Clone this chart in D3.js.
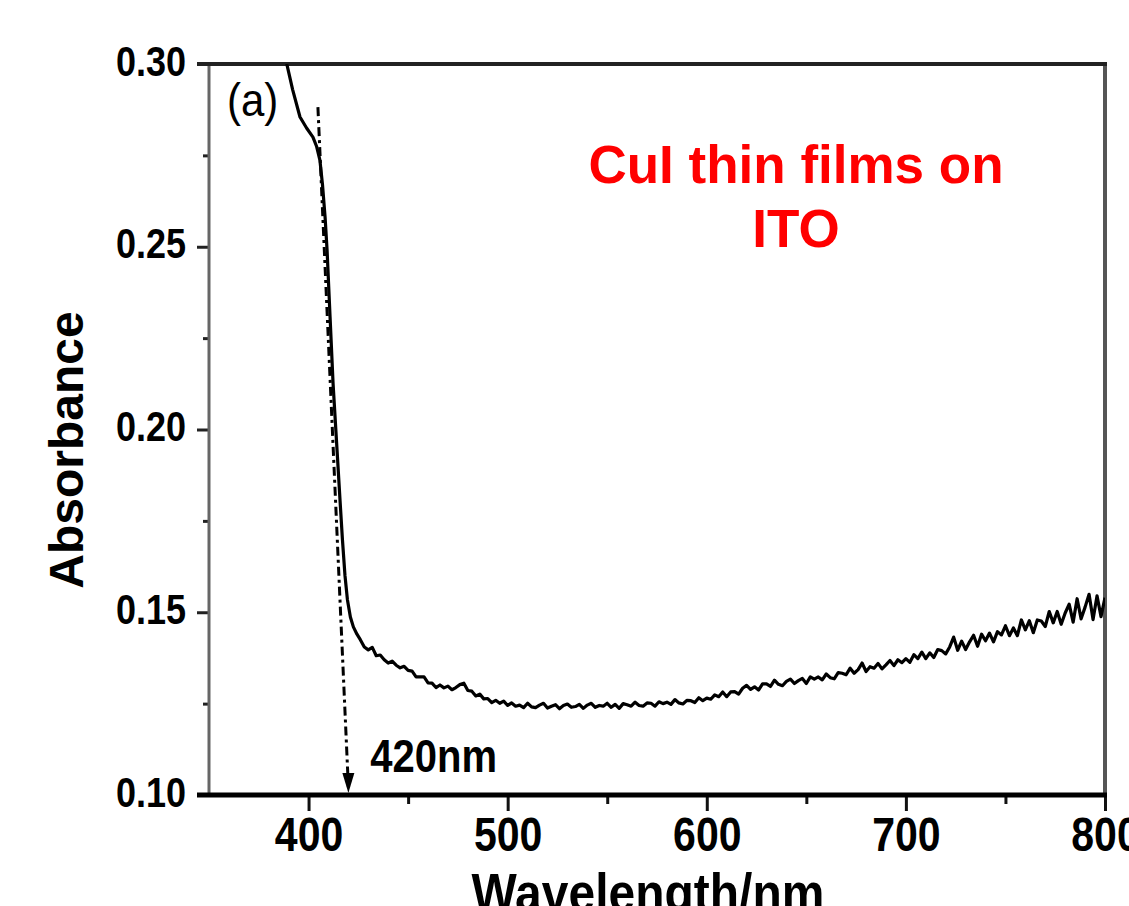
<!DOCTYPE html>
<html>
<head>
<meta charset="utf-8">
<script src="https://cdn.jsdelivr.net/npm/d3@7"></script>
<style>
  html, body { margin: 0; padding: 0; background: #fff; }
  svg { display: block; font-family: "Liberation Sans", Arial, sans-serif; }
</style>
</head>
<body>
<div id="chart"></div>
<script>
// absorption edge (steep part) + noisy plateau
const wavelength = [
  388, 389.2, 392, 395.7, 399, 402.2, 404, 405.7, 407, 408.3, 409.3, 410.8, 412.3, 414.3, 415.8, 417, 418.3, 419.5, 421, 422.5, 424.3, 426, 428,
  430, 432, 434, 436, 438, 440, 442, 444, 446, 448, 450, 452, 454, 456, 458, 460, 462, 464, 466, 468, 470, 472, 474, 476, 478, 480,
  482, 484, 486, 488, 490, 492, 494, 496, 498, 500, 502, 504, 506, 508, 510, 512, 514, 516, 518, 520, 522, 524, 526, 528, 530,
  532, 534, 536, 538, 540, 542, 544, 546, 548, 550, 552, 554, 556, 558, 560, 562, 564, 566, 568, 570, 572, 574, 576, 578, 580,
  582, 584, 586, 588, 590, 592, 594, 596, 598, 600, 602, 604, 606, 608, 610, 612, 614, 616, 618, 620, 622, 624, 626, 628, 630,
  632, 634, 636, 638, 640, 642, 644, 646, 648, 650, 652, 654, 656, 658, 660, 662, 664, 666, 668, 670, 672, 674, 676, 678, 680,
  682, 684, 686, 688, 690, 692, 694, 696, 698, 700, 702, 704, 706, 708, 710, 712, 714, 716, 718, 720, 722, 724, 726, 728, 730,
  732, 734, 736, 738, 740, 742, 744, 746, 748, 750, 752, 754, 756, 758, 760, 762, 764, 766, 768, 770, 772, 774, 776, 778, 780,
  782, 784, 786, 788, 790, 792, 794, 796, 798, 800
];
const absorbance = [
  0.3035, 0.2997, 0.2930, 0.2855, 0.2825, 0.2800, 0.2775, 0.2737, 0.2670, 0.2581, 0.2491, 0.2308, 0.2127, 0.1944, 0.1807, 0.1700, 0.1600, 0.1535, 0.1487, 0.1460, 0.1440, 0.1425, 0.1405,
  0.1397, 0.1404, 0.1381, 0.1383, 0.1370, 0.1361, 0.1366, 0.1355, 0.1348, 0.1352, 0.1341, 0.1339, 0.1323, 0.1323, 0.1323, 0.1307, 0.1306, 0.1294, 0.1301, 0.1293, 0.1298, 0.1288, 0.1294, 0.1302, 0.1306, 0.1286,
  0.1284, 0.1271, 0.1276, 0.1263, 0.1264, 0.1253, 0.1259, 0.1251, 0.1257, 0.1245, 0.1252, 0.1243, 0.1246, 0.1239, 0.1251, 0.1241, 0.1239, 0.1246, 0.1251, 0.1238, 0.1243, 0.1247, 0.1236, 0.1245, 0.1249,
  0.1240, 0.1242, 0.1248, 0.1237, 0.1246, 0.1251, 0.1240, 0.1245, 0.1243, 0.1251, 0.1240, 0.1248, 0.1237, 0.1250, 0.1247, 0.1243, 0.1254, 0.1245, 0.1243, 0.1252, 0.1251, 0.1243, 0.1255, 0.1250, 0.1254,
  0.1248, 0.1261, 0.1252, 0.1249, 0.1259, 0.1258, 0.1253, 0.1266, 0.1258, 0.1265, 0.1262, 0.1274, 0.1269, 0.1282, 0.1269, 0.1282, 0.1283, 0.1276, 0.1292, 0.1300, 0.1289, 0.1296, 0.1287, 0.1304, 0.1304,
  0.1297, 0.1314, 0.1303, 0.1299, 0.1311, 0.1317, 0.1305, 0.1313, 0.1319, 0.1305, 0.1323, 0.1317, 0.1323, 0.1315, 0.1331, 0.1321, 0.1318, 0.1335, 0.1333, 0.1329, 0.1347, 0.1333, 0.1343, 0.1361, 0.1338,
  0.1351, 0.1347, 0.1360, 0.1345, 0.1356, 0.1368, 0.1354, 0.1370, 0.1362, 0.1373, 0.1363, 0.1384, 0.1373, 0.1391, 0.1373, 0.1389, 0.1376, 0.1398, 0.1395, 0.1386, 0.1405, 0.1432, 0.1396, 0.1421, 0.1398,
  0.1419, 0.1437, 0.1407, 0.1440, 0.1422, 0.1443, 0.1419, 0.1447, 0.1438, 0.1463, 0.1436, 0.1457, 0.1436, 0.1479, 0.1452, 0.1477, 0.1444, 0.1479, 0.1476, 0.1461, 0.1502, 0.1471, 0.1502, 0.1467, 0.1498,
  0.1522, 0.1473, 0.1537, 0.1482, 0.1514, 0.1549, 0.1480, 0.1545, 0.1488, 0.1540
];

const xMajor = [400, 500, 600, 700, 800];
const xMinor = [450, 550, 650, 750];
const yMajor = [0.10, 0.15, 0.20, 0.25, 0.30];
const yMinor = [0.125, 0.175, 0.225, 0.275];

// tangent line that marks the edge at 420 nm
const edgeLine = [[404.7, 0.286], [420, 0.10]];

const width = 1129, height = 906;
const font = '"Liberation Sans", Arial, sans-serif';

const svg = d3.select("#chart")
    .append("svg")
    .attr("width", width)
    .attr("height", height);

const x = d3.scaleLinear().domain([350, 800]).range([209, 1105]);
const y = d3.scaleLinear().domain([0.10, 0.30]).range([795, 64]);

svg.append("defs").append("clipPath")
    .attr("id", "plot-clip")
    .append("rect")
    .attr("x", x(350)).attr("y", y(0.30))
    .attr("width", x(800) - x(350)).attr("height", y(0.10) - y(0.30));

// y axis
const yAxisG = svg.append("g").attr("transform", `translate(${x(350)},0)`);
yAxisG.call(d3.axisLeft(y).tickValues(yMinor).tickSize(6).tickFormat(""))
    .call(g => g.select(".domain").remove());
const yMajG = svg.append("g").attr("transform", `translate(${x(350)},0)`);
yMajG.call(d3.axisLeft(y).tickValues(yMajor).tickSize(12).tickFormat(d3.format(".2f")))
    .call(g => g.select(".domain").remove());
svg.selectAll(".tick line").attr("stroke", "#222").attr("stroke-width", 3);
yMajG.selectAll("text")
    .attr("x", -23).attr("y", 0).attr("dy", 0)
    .attr("transform", "translate(0,11) scale(1,1.16)")
    .attr("fill", "#000")
    .style("font", `bold 36px ${font}`);

// x axis
const xAxisG = svg.append("g").attr("transform", `translate(0,${y(0.10)})`);
xAxisG.call(d3.axisBottom(x).tickValues(xMinor).tickSize(9).tickFormat(""))
    .call(g => g.select(".domain").remove());
const xMajG = svg.append("g").attr("transform", `translate(0,${y(0.10)})`);
xMajG.call(d3.axisBottom(x).tickValues(xMajor).tickSize(16).tickFormat(d3.format("d")))
    .call(g => g.select(".domain").remove());
xAxisG.selectAll(".tick line").attr("stroke", "#111").attr("stroke-width", 3);
xMajG.selectAll(".tick line").attr("stroke", "#111").attr("stroke-width", 3);
xMajG.selectAll("text")
    .attr("y", 0).attr("dy", 0)
    .attr("transform", "translate(0,56) scale(1,1.16)")
    .attr("fill", "#000")
    .style("font", `bold 41px ${font}`);

// frame
svg.append("line").attr("x1", x(350)).attr("x2", x(350)).attr("y1", y(0.30)).attr("y2", y(0.10))
    .attr("stroke", "#666").attr("stroke-width", 3);
svg.append("line").attr("x1", x(800)).attr("x2", x(800)).attr("y1", y(0.30)).attr("y2", y(0.10))
    .attr("stroke", "#555").attr("stroke-width", 4);
svg.append("line").attr("x1", x(350) - 12).attr("x2", x(800) + 2).attr("y1", y(0.30)).attr("y2", y(0.30))
    .attr("stroke", "#222").attr("stroke-width", 4);
svg.append("line").attr("x1", x(350) - 12).attr("x2", x(800) + 2).attr("y1", y(0.10)).attr("y2", y(0.10))
    .attr("stroke", "#000").attr("stroke-width", 5);

// spectrum
const spectrum = wavelength.map((w, i) => [w, absorbance[i]]);
svg.append("path")
    .datum(spectrum)
    .attr("clip-path", "url(#plot-clip)")
    .attr("fill", "none")
    .attr("stroke", "#000")
    .attr("stroke-width", 3.2)
    .attr("stroke-linejoin", "round")
    .attr("d", d3.line().x(d => x(d[0])).y(d => y(d[1])));

// dash-dot tangent with arrow head
const tip = [x(edgeLine[1][0]), y(edgeLine[1][1]) - 2];
svg.append("path")
    .datum(edgeLine)
    .attr("fill", "none")
    .attr("stroke", "#000")
    .attr("stroke-width", 3)
    .attr("stroke-dasharray", "9,4,3,4")
    .attr("d", d3.line().x(d => x(d[0])).y(d => y(d[1]) - 8));
svg.append("path")
    .attr("d", `M${tip[0] - 6},${tip[1] - 20} L${tip[0] + 6},${tip[1] - 20} L${tip[0]},${tip[1]} Z`)
    .attr("fill", "#000");

// labels
svg.append("text")
    .attr("transform", `translate(${x(431)},${y(0.1063)}) scale(1,1.16)`)
    .style("font", `bold 40px ${font}`)
    .text("420nm");

svg.append("text")
    .attr("transform", "translate(227,116) scale(1,1.1)")
    .style("font", `42px ${font}`)
    .text("(a)");

svg.append("text")
    .attr("transform", "translate(83,450) rotate(-90)")
    .attr("text-anchor", "middle")
    .style("font", `bold 48px ${font}`)
    .text("Absorbance");

svg.append("text")
    .attr("transform", "translate(648,911) scale(1,1.12)")
    .attr("text-anchor", "middle")
    .style("font", `bold 48px ${font}`)
    .text("Wavelength/nm");

const note = svg.append("text")
    .attr("text-anchor", "middle")
    .attr("fill", "#ff0000")
    .style("font", `bold 53px ${font}`);
note.append("tspan").attr("x", 796).attr("y", 183).text("CuI thin films on");
note.append("tspan").attr("x", 796).attr("y", 247).text("ITO");
</script>
</body>
</html>
